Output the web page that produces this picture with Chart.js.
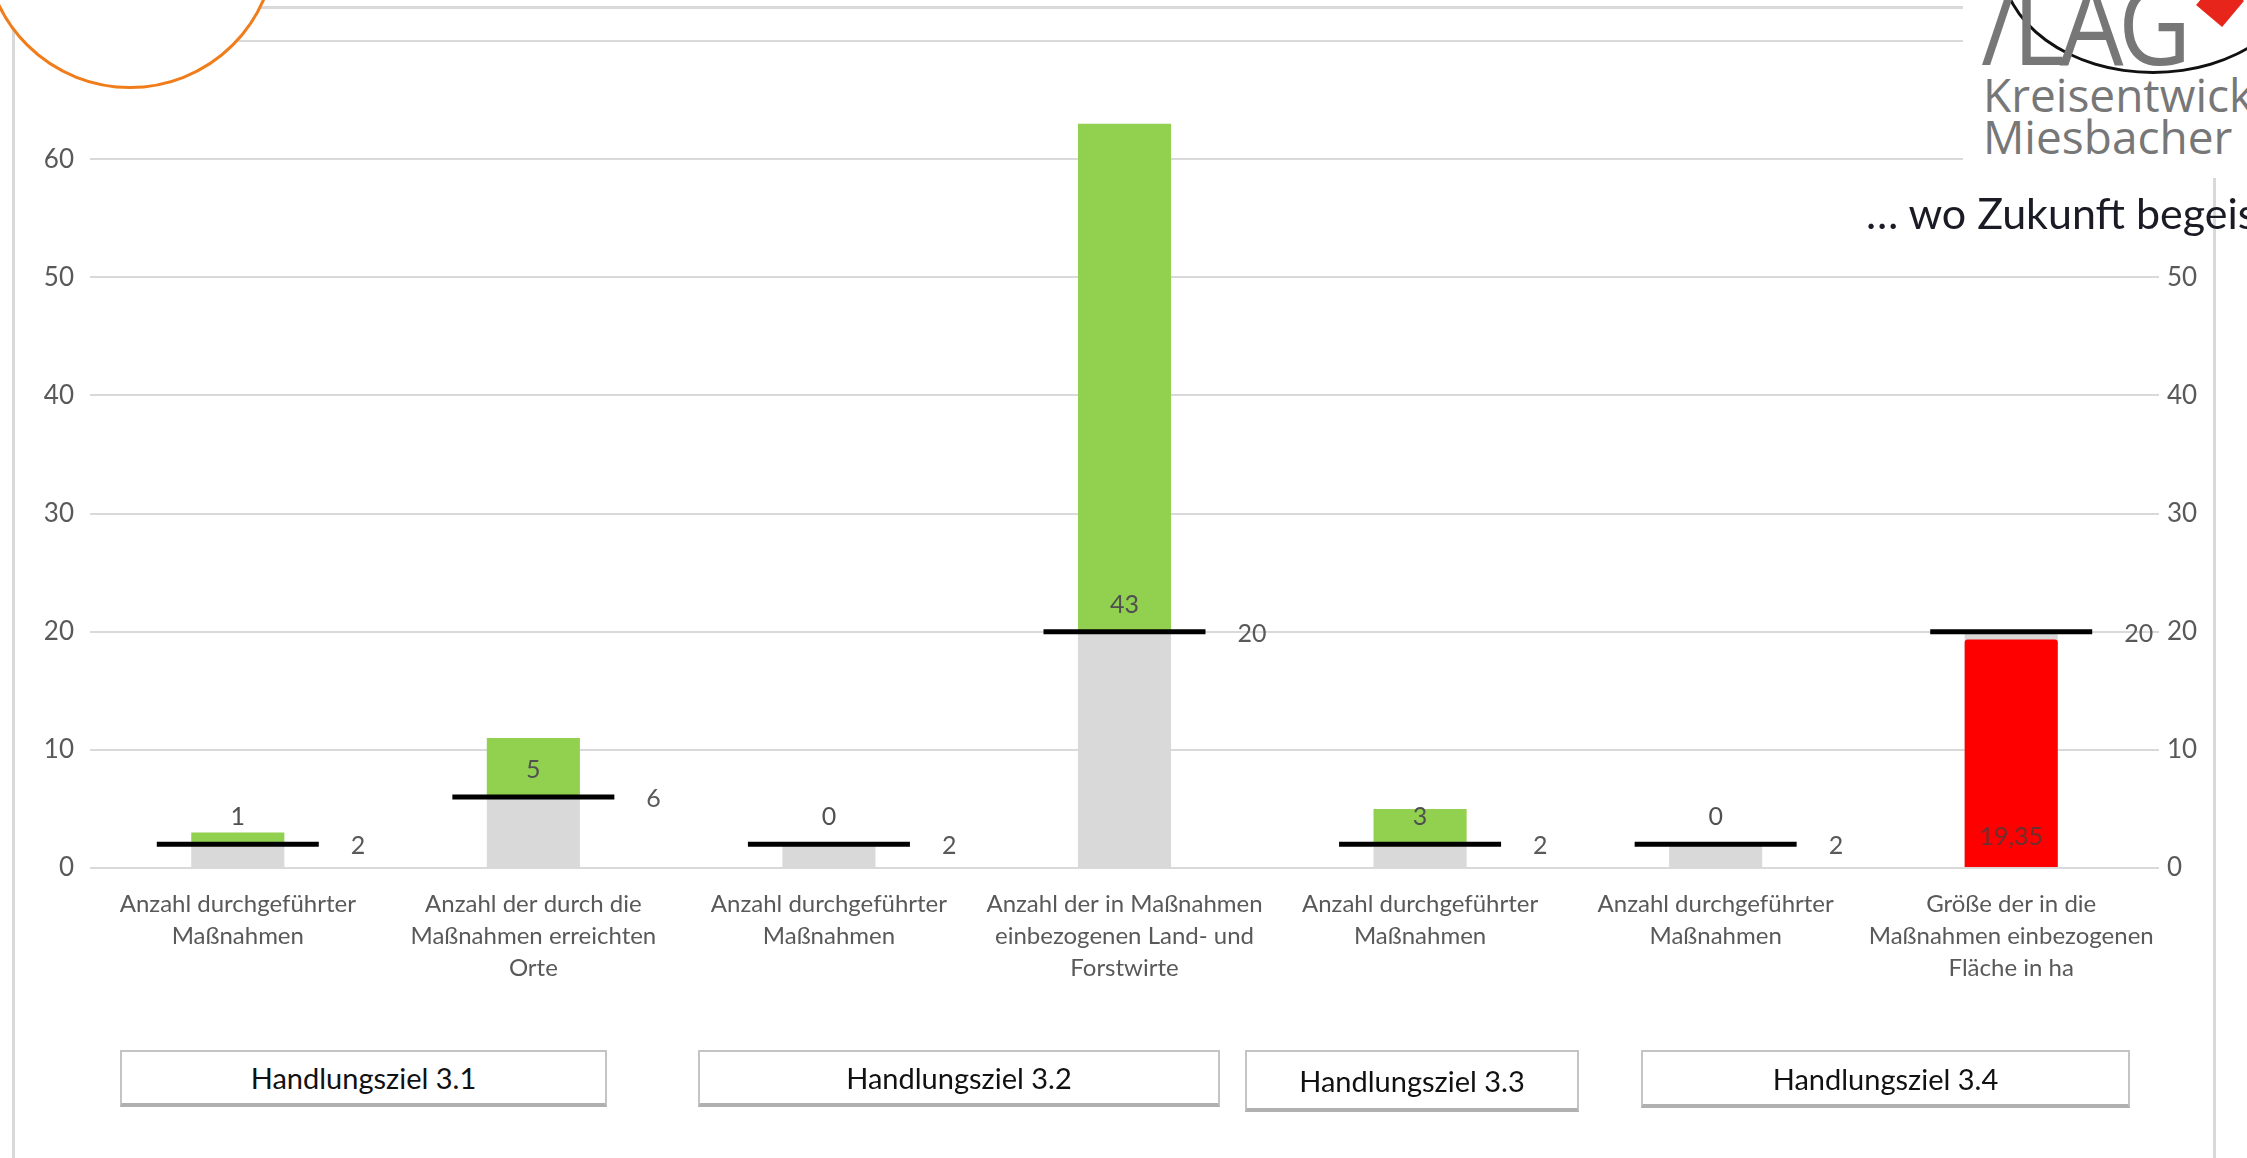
<!DOCTYPE html>
<html>
<head>
<meta charset="utf-8">
<script src="https://cdn.jsdelivr.net/npm/chart.js@4.4.1/dist/chart.umd.min.js"></script>
<style>
  body { margin: 0; width: 2247px; height: 1158px; overflow: hidden; background: #fff; position: relative; font-family: Lato, "Open Sans", sans-serif; }
  #c { position: absolute; left: 0; top: 0; }
  .deco { position: absolute; }
  .box { position: absolute; border: 2px solid #c4c4c4; border-bottom: 4px solid #b0b0b0; background: #fff;
         display: flex; align-items: center; justify-content: center; font-size: 29px; color: #111; box-sizing: border-box; }
</style>
</head>
<body>
<canvas id="c" width="2247" height="1158"></canvas>

<div class="deco" style="left:0;top:6px;width:1963px;height:3px;background:#d9d9d9"></div>
<div class="deco" style="left:12px;top:0;width:3px;height:1158px;background:#d9d9d9"></div>
<div class="deco" style="left:2213px;top:178px;width:3px;height:980px;background:#d9d9d9"></div>
<div class="deco" style="left:-17px;top:-205px;width:288px;height:288px;border:3px solid #f07d1a;border-radius:50%;background:#fff"></div>

<div class="deco" style="left:1963px;top:0;width:284px;height:176px;background:#fff;overflow:hidden">
  <div class="deco" style="left:37px;top:-150px;width:300px;height:218px;border:3px solid #111;border-radius:50%"></div>
  <div class="deco" style="left:18px;top:-34px;font-family:'Open Sans';font-size:112px;color:#777;letter-spacing:-6px;line-height:1;transform:scaleX(0.9);transform-origin:left top">/LAG</div>
  <div class="deco" style="left:240px;top:-14px;width:34px;height:34px;background:#e8251b;transform:rotate(40deg)"></div>
  <div class="deco" style="left:20px;top:71px;font-family:'Open Sans';font-size:46px;color:#777;line-height:1;white-space:nowrap">Kreisentwicklung</div>
  <div class="deco" style="left:20px;top:113px;font-family:'Open Sans';font-size:46px;color:#777;line-height:1;white-space:nowrap">Miesbacher Land</div>
</div>
<div class="deco" style="left:1866px;top:191px;font-family:Lato;font-size:43px;color:#1b1b26;white-space:nowrap;line-height:1">… wo Zukunft begeistert</div>

<div class="box" style="left:120px;top:1050px;width:487px;height:57px">Handlungsziel 3.1</div>
<div class="box" style="left:698px;top:1050px;width:522px;height:57px">Handlungsziel 3.2</div>
<div class="box" style="left:1245px;top:1050px;width:334px;height:62px">Handlungsziel 3.3</div>
<div class="box" style="left:1641px;top:1050px;width:489px;height:58px">Handlungsziel 3.4</div>

<script>
var categories = [
    ["Anzahl durchgeführter", "Maßnahmen"],
    ["Anzahl der durch die", "Maßnahmen erreichten", "Orte"],
    ["Anzahl durchgeführter", "Maßnahmen"],
    ["Anzahl der in Maßnahmen", "einbezogenen Land- und", "Forstwirte"],
    ["Anzahl durchgeführter", "Maßnahmen"],
    ["Anzahl durchgeführter", "Maßnahmen"],
    ["Größe der in die", "Maßnahmen einbezogenen", "Fläche in ha"]
];
var targets = [2, 6, 2, 20, 2, 2, 20];
var achieved = [1, 5, 0, 43, 3, 0, null];
var areaValue = [null, null, null, null, null, null, 19.35];
var yTicks = [0, 10, 20, 30, 40, 50, 60, 70];

var tickFont = { family: "Lato", size: 26 };
var grey = "#595959";

// labels: achieved values above the stack base, targets right of the black line
var valueLabels = {
    id: "valueLabels",
    afterDatasetsDraw: function(chart) {
        var ctx = chart.ctx;
        var x = chart.scales.x, y = chart.scales.y;
        ctx.save();
        ctx.font = "25px Lato";
        ctx.textBaseline = "middle";
        for (var i = 0; i < categories.length; i++) {
            var cx = x.getPixelForValue(i);
            if (achieved[i] !== null) {
                ctx.fillStyle = "#505050";
                ctx.textAlign = "center";
                ctx.fillText(String(achieved[i]), cx, y.getPixelForValue(targets[i]) - 27);
            }
            if (areaValue[i] !== null) {
                ctx.fillStyle = "#6a3030";
                ctx.textAlign = "center";
                ctx.fillText(String(areaValue[i]).replace(".", ","), cx, y.getPixelForValue(0) - 31);
            }
            ctx.fillStyle = grey;
            ctx.textAlign = "left";
            ctx.fillText(String(targets[i]), cx + 113, y.getPixelForValue(targets[i]) + 2);
        }
        ctx.restore();
    }
};

new Chart(document.getElementById("c"), {
    type: "bar",
    data: {
        labels: categories,
        datasets: [{
            type: "line",
            label: "Ziel",
            data: targets,
            stack: "ziel",
            showLine: false,
            pointStyle: "line",
            pointRadius: 81,
            pointHoverRadius: 81,
            pointBorderWidth: 5,
            borderColor: "#000",
            order: 0
        }, {
            label: "Fläche",
            data: areaValue,
            stack: "flaeche",
            grouped: false,
            backgroundColor: "#ff0000",
            borderRadius: 3,
            order: 1
        }, {
            label: "Zielwert",
            data: targets,
            stack: "a",
            backgroundColor: "#d9d9d9",
            order: 2
        }, {
            label: "Erreicht",
            data: achieved,
            stack: "a",
            backgroundColor: "#92d050",
            order: 3
        }]
    },
    options: {
        responsive: false,
        animation: false,
        categoryPercentage: 1,
        barPercentage: 0.315,
        layout: { autoPadding: false, padding: { top: 41, left: 0, right: 0, bottom: 0 } },
        plugins: { legend: { display: false }, tooltip: { enabled: false } },
        scales: {
            x: {
                stacked: true,
                grid: { display: false, drawTicks: false },
                border: { display: false },
                ticks: { color: grey, font: { family: "Lato", size: 24, lineHeight: 1.34 }, padding: 20, maxRotation: 0, autoSkip: false },
                afterFit: function(s) { s.height = 290; }
            },
            y: {
                stacked: true,
                min: 0, max: 70,
                afterBuildTicks: function(s) { s.ticks = yTicks.map(function(v) { return { value: v }; }); },
                grid: { color: "#d9d9d9", lineWidth: 2, drawTicks: false },
                border: { display: false },
                ticks: { color: grey, font: tickFont, padding: 16 },
                afterFit: function(s) { s.width = 90; }
            },
            y2: {
                position: "right",
                min: 0, max: 70,
                afterBuildTicks: function(s) { s.ticks = yTicks.map(function(v) { return { value: v }; }); },
                grid: { display: false, drawTicks: false },
                border: { display: false },
                ticks: { color: grey, font: tickFont, padding: 8 },
                afterFit: function(s) { s.width = 88; }
            }
        }
    },
    plugins: [valueLabels]
});
</script>
</body>
</html>
